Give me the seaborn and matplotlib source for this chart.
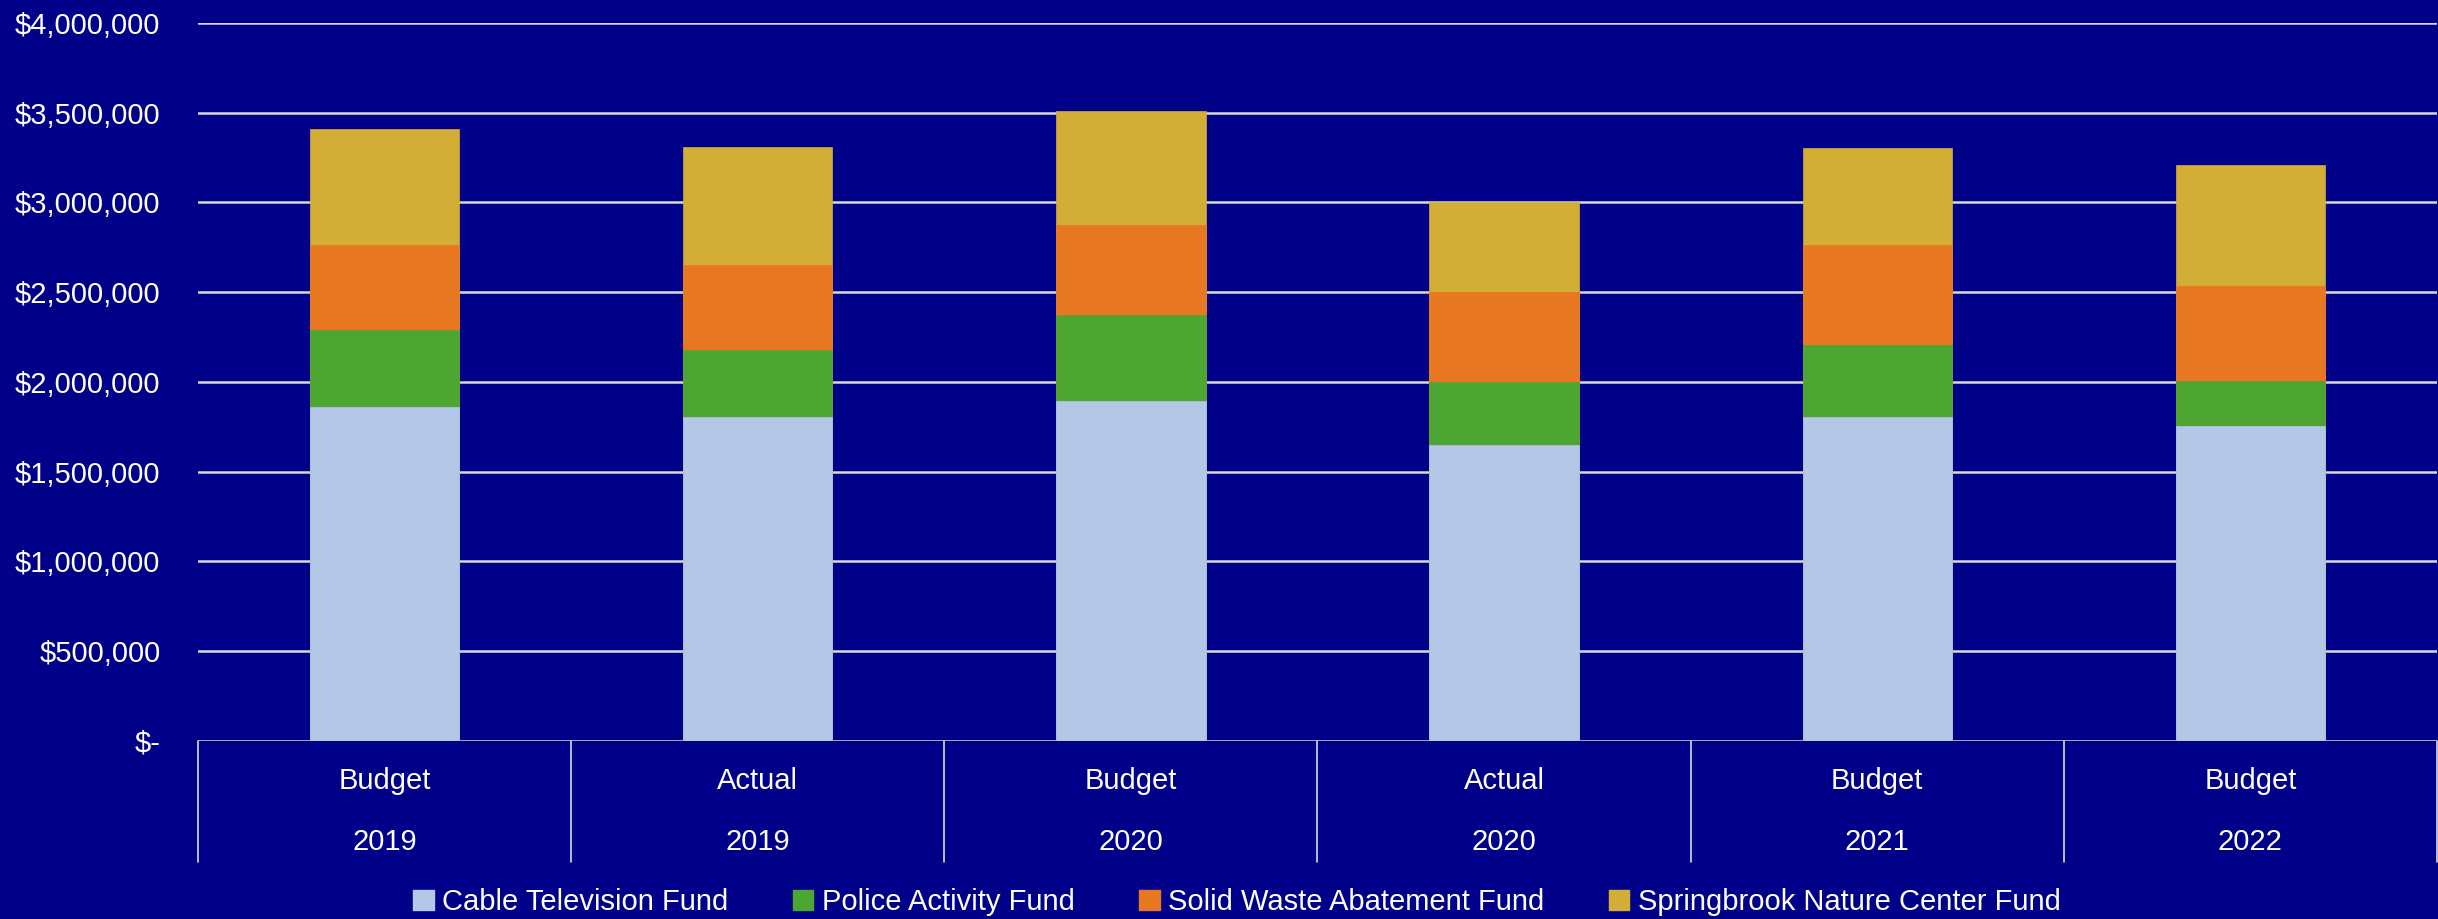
import numpy as np
import pandas as pd
import matplotlib.pyplot as plt
import seaborn as sns
from matplotlib.patches import Patch

# date
kinds = ['Budget', 'Actual', 'Budget', 'Actual', 'Budget', 'Budget']
years = ['2019', '2019', '2020', '2020', '2021', '2022']
cable = [1860000, 1807000, 1894000, 1650000, 1803000, 1752000]
police = [430000, 370000, 480000, 350000, 403000, 255000]
solid_waste = [473000, 475000, 502000, 500000, 556000, 525000]
springbrook = [645000, 655000, 632000, 500000, 541000, 676000]

series_names = ['Cable Television Fund', 'Police Activity Fund',
                'Solid Waste Abatement Fund', 'Springbrook Nature Center Fund']
series_colors = ['#B4C7E7', '#4EA632', '#E87722', '#D3AE37']
tick_values = [0, 500000, 1000000, 1500000, 2000000, 2500000, 3000000, 3500000, 4000000]

bg = '#000088'
grid_col = '#D9D9D9'

sns.set_style('white')
plt.rcParams['font.family'] = ['Liberation Sans', 'DejaVu Sans']
plt.rcParams['font.size'] = 21

labels = [f'{k} {y}' for k, y in zip(kinds, years)]
df = pd.DataFrame({'cat': labels, 'cable': cable, 'police': police,
                   'solid': solid_waste, 'spring': springbrook})
cols = ['cable', 'police', 'solid', 'spring']
cum = df[cols].cumsum(axis=1)

fig = plt.figure(figsize=(24.38, 9.19), dpi=100, facecolor=bg)
ax = fig.add_axes([0.0812, 0.1937, 0.9184, 0.7813])
ax.set_facecolor(bg)

# grid sub bare
for v in tick_values:
    ax.axhline(v, color=grid_col, lw=1.8, zorder=0)

# stivuire: totalul cumulat de sus in jos
for col, color in reversed(list(zip(cols, series_colors))):
    sns.barplot(x=df['cat'], y=cum[col], color=color, width=0.4,
                errorbar=None, ax=ax, zorder=2, saturation=1,
                edgecolor=color, linewidth=0.5)

ax.set_ylim(0, 4000000)
ax.set_xlim(-0.5, len(labels) - 0.5)
ax.set_yticks(tick_values)
ax.set_yticklabels(['$-' if v == 0 else f'${v:,.0f}' for v in tick_values], color='white')
ax.tick_params(axis='y', length=0, pad=27)
ax.set_xticks([])
ax.set_xlabel('')
ax.set_ylabel('')
for s in ax.spines.values():
    s.set_visible(False)

# etichete pe doua niveluri + separatoare
for i in range(len(labels) + 1):
    ax.plot([i - 0.5, i - 0.5], [0, -0.1685], color=grid_col, lw=1.2,
            transform=ax.get_xaxis_transform(), clip_on=False)
for i, (k, y) in enumerate(zip(kinds, years)):
    ax.text(i, -0.056, k, color='white', ha='center', va='center',
            transform=ax.get_xaxis_transform())
    ax.text(i, -0.141, y, color='white', ha='center', va='center',
            transform=ax.get_xaxis_transform())

handles = [Patch(facecolor=c, edgecolor=c) for c in series_colors]
fig.legend(handles, series_names, loc='center', bbox_to_anchor=(0.5074, 0.0185),
           ncol=4, frameon=False, labelcolor='white', handlelength=0.7,
           handleheight=0.7, handletextpad=0.3, columnspacing=2.2)

fig.savefig('out.png', dpi=100, facecolor=bg)
